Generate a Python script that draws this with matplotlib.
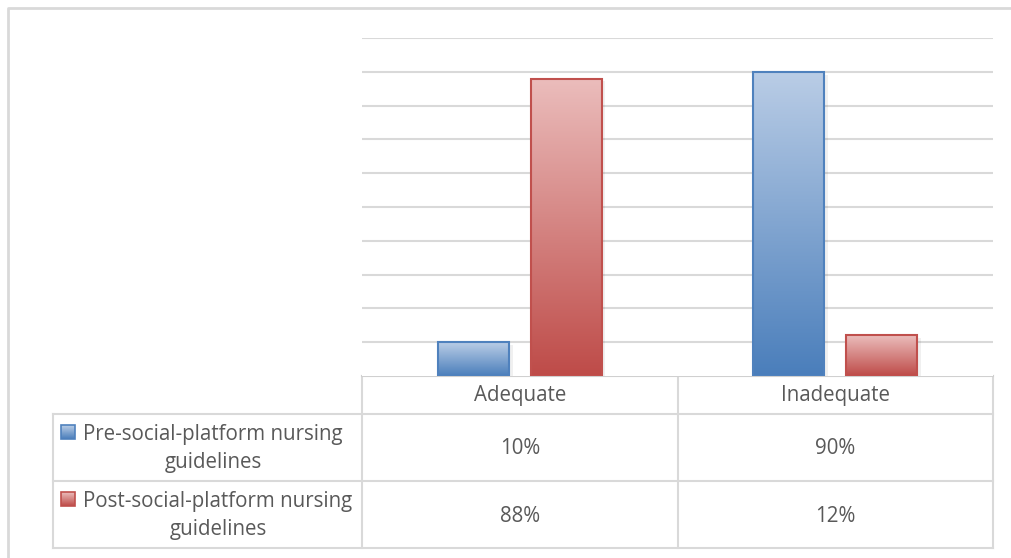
import numpy as np
import matplotlib.pyplot as plt
from matplotlib.colors import LinearSegmentedColormap
from matplotlib.patches import Rectangle

# data
categories = ["Adequate", "Inadequate"]
series_names = ["Pre-social-platform nursing\nguidelines",
                "Post-social-platform nursing\nguidelines"]
pre_values = [10, 90]
post_values = [88, 12]

W, H = 1012, 558
plt.rcParams['font.family'] = ['Open Sans', 'DejaVu Sans']
TEXT = '#595959'
GRID = '#D9D9D9'

blue = ('#BACDE6', '#4A7EBB', '#4F81BD')   # top, bottom, edge
red = ('#EBBDBC', '#BE4B48', '#C0504D')

fig = plt.figure(figsize=(W / 100, H / 100), dpi=100)


def px(x0, y0, x1, y1):
    """pixel box (top-left origin) -> figure fraction rect"""
    return [x0 / W, 1 - y1 / H, (x1 - x0) / W, (y1 - y0) / H]


# plot area
ax = fig.add_axes(px(362, 38, 993, 376))
ax.set_xlim(-0.5, 1.5)
ax.set_ylim(0, 100)
for s in ax.spines.values():
    s.set_visible(False)
ax.set_xticks([])
ax.set_yticks(np.arange(10, 101, 10))
ax.tick_params(left=False, labelleft=False)
ax.yaxis.grid(True, color=GRID, lw=1.5)
ax.set_axisbelow(True)

x = np.arange(len(categories))
offset, width = 0.147, 0.225


def gradient_bars(xs, vals, cols):
    top, bottom, edge = cols
    cmap = LinearSegmentedColormap.from_list('g', [bottom, top])
    bars = ax.bar(xs, vals, width, facecolor='none', edgecolor=edge, lw=1.5, zorder=3)
    for b in bars:
        bx, by = b.get_x(), b.get_y()
        bw, bh = b.get_width(), b.get_height()
        # soft shadow to the right
        ax.add_patch(Rectangle((bx + 0.012, by), bw, bh - 0.8, fc='#000000',
                               alpha=0.06, lw=0, zorder=2))
        grad = np.linspace(0, 1, 256).reshape(-1, 1)
        im = ax.imshow(grad, cmap=cmap, origin='lower', aspect='auto',
                       extent=(bx, bx + bw, by, by + bh), zorder=2.5)
        im.set_clip_path(b)
    return bars


gradient_bars(x - offset, pre_values, blue)
gradient_bars(x + offset, post_values, red)
ax.set_xlim(-0.5, 1.5)
ax.set_ylim(0, 100)

# overlay for the data table and chart border, in pixel units
ov = fig.add_axes([0, 0, 1, 1], zorder=-1)
ov.set_xlim(0, W)
ov.set_ylim(H, 0)
ov.axis('off')

lw = 1.5
ov.plot([8, 8, W + 5], [H + 5, 8, 8], color=GRID, lw=2)

col_x = [362, 678, 993]
row_y = [376, 414, 481, 548]
for cx in col_x:
    ov.plot([cx, cx], [376, 548], color=GRID, lw=lw)
ov.plot([53, 53], [414, 548], color=GRID, lw=lw)
ov.plot([362, 993], [376, 376], color='#D0D0D0', lw=lw)
for ry in row_y[1:]:
    ov.plot([53, 993], [ry, ry], color=GRID, lw=lw)

fs = 14.8
centers = [(col_x[i] + col_x[i + 1]) / 2 for i in range(2)]
for cx, cat in zip(centers, categories):
    ov.text(cx, 396, cat, ha='center', va='center', fontsize=fs, color=TEXT)

for r, (name, vals, cols) in enumerate(zip(series_names, [pre_values, post_values], [blue, red])):
    y0, y1 = row_y[r + 1], row_y[r + 2]
    ym = (y0 + y1) / 2
    # legend key
    top, bottom, edge = cols
    key = Rectangle((61, ym - 22.5), 14, 14, fc='none', ec=edge, lw=1.2, zorder=3)
    ov.add_patch(key)
    cmap = LinearSegmentedColormap.from_list('k', [top, bottom])
    im = ov.imshow(np.linspace(0, 1, 64).reshape(-1, 1), cmap=cmap, aspect='auto',
                   extent=(61, 75, ym - 8.5, ym - 22.5), zorder=2)
    im.set_clip_path(key)
    ov.text(213 + 5 * r, ym + 1, name, ha='center', va='center', fontsize=fs,
            color=TEXT, multialignment='center', linespacing=1.45)
    for cx, v in zip(centers, vals):
        ov.text(cx, ym + 1.5, f"{v}%", ha='center', va='center', fontsize=fs, color=TEXT)

ov.set_xlim(0, W)
ov.set_ylim(H, 0)

fig.savefig('out.png', dpi=100, facecolor='white')
